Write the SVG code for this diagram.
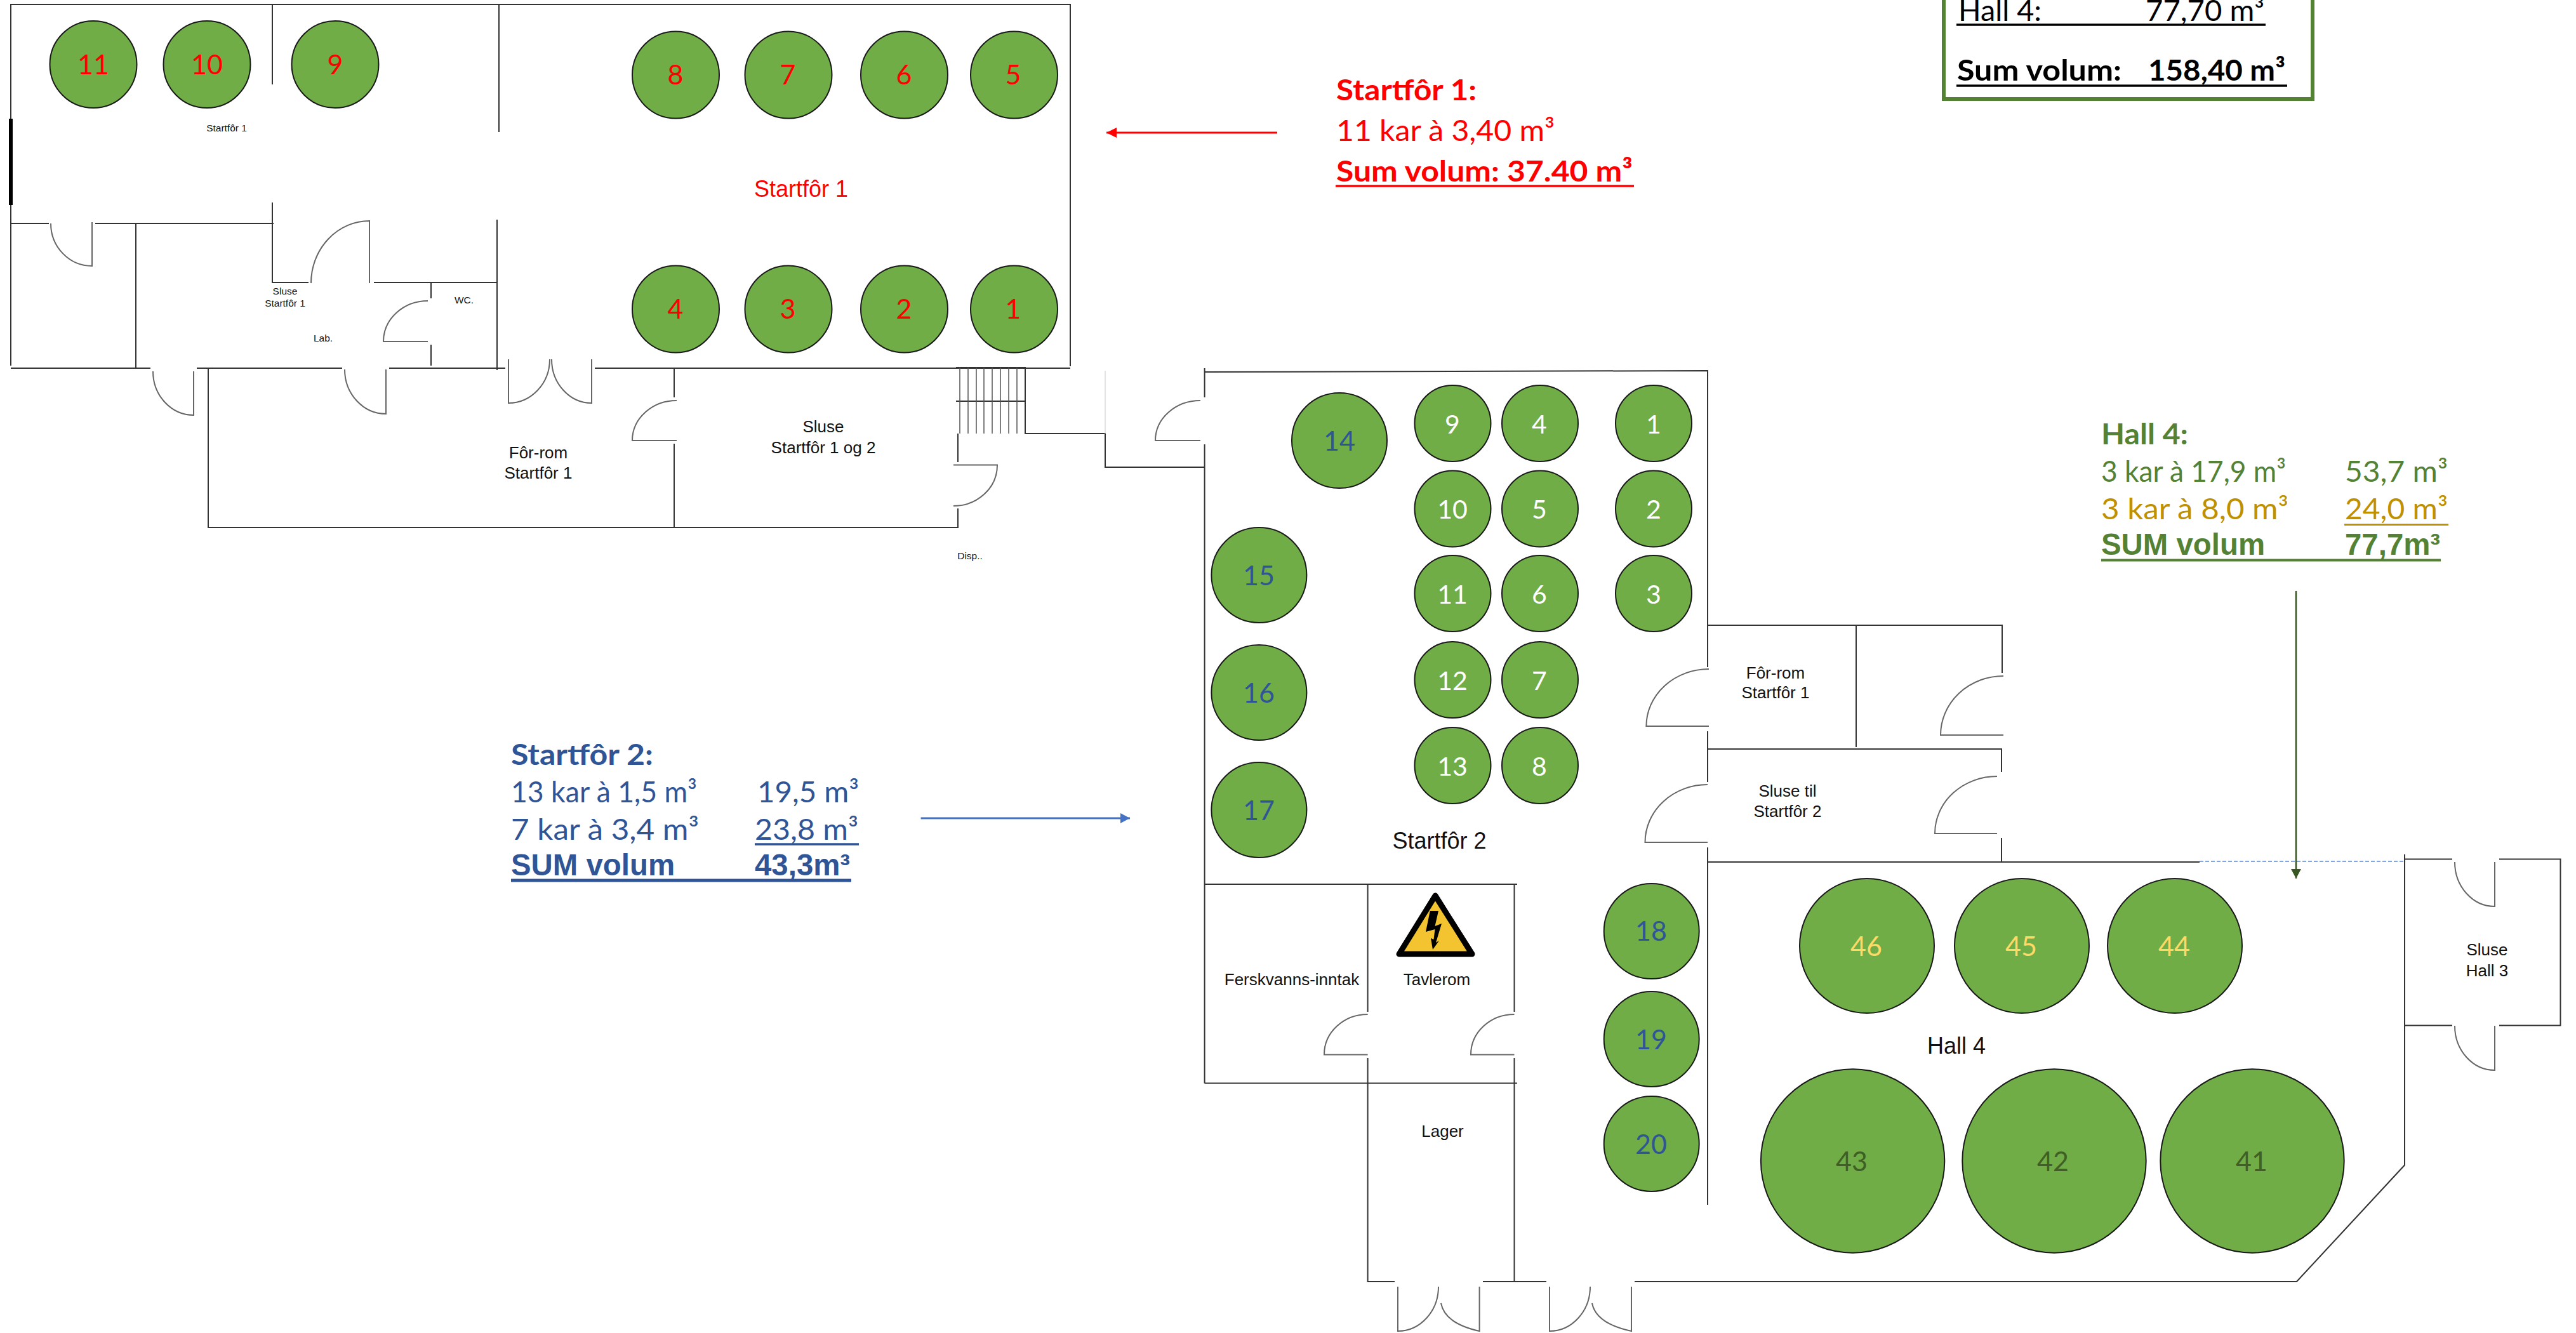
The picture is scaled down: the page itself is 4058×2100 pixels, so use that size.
<svg xmlns="http://www.w3.org/2000/svg" width="4058" height="2100" viewBox="0 0 4058 2100">
<defs>
<style>
.w{fill:none;stroke:#333;stroke-width:2}
.t{fill:none;stroke:#555;stroke-width:1.5}
.d{fill:none;stroke:#666;stroke-width:2}
.k{fill:#70ad47;stroke:#1a1a1a;stroke-width:2}
text{font-family:"Liberation Sans",Arial,sans-serif;fill:#111}
.c{text-anchor:middle}
.s{font-size:15.5px}
.m{font-size:26px}
.l{font-size:36px}
.n{font-family:Lato,"Open Sans",sans-serif;text-anchor:middle;font-size:43px}
.red{fill:#ff0000}
.wh{fill:#ffffff;font-size:41px}
.bl{fill:#2f5597}
.ye{fill:#ffd966}
.dg{fill:#3f5f24}
.p{font-family:Lato,"Open Sans",sans-serif;font-size:46px}
.b{font-weight:700}
.ar{font-family:"Liberation Sans",Arial,sans-serif;font-weight:700;font-size:47.4px}
.g{fill:#548235}
.o{fill:#bf9000}
.bk{fill:#000}
</style>
<marker id="ra" markerUnits="userSpaceOnUse" markerWidth="16" markerHeight="16" refX="16" refY="8" orient="auto"><path d="M0 0L16 8L0 16Z" fill="#ff0000"/></marker>
<marker id="ba" markerUnits="userSpaceOnUse" markerWidth="15" markerHeight="16" refX="15" refY="8" orient="auto"><path d="M0 0L15 8L0 16Z" fill="#4472c4"/></marker>
<marker id="ga" markerUnits="userSpaceOnUse" markerWidth="15" markerHeight="16" refX="15" refY="8" orient="auto"><path d="M0 0L15 8L0 16Z" fill="#385723"/></marker>
</defs>
<rect width="4058" height="2100" fill="#ffffff"/>

<g id="plan-walls">
<path class="w" d="M17 576V7H1686V577M429 7V133M786 7V208M17 352H77M150 352H431M214 352V580M17 580H237M310 580H539M613 580H796M937 580H1686"/>
<path d="M17 187V323" fill="none" stroke="#000" stroke-width="6"/>
<path class="w" d="M429 319V445H486M589 445H784M679 445V470M679 543V576M783 346V583M328 580V831H1509V801M1509 728V683M1062 580V626M1062 699V831"/>
<path class="w" d="M1506 579H1615V683H1741V736H1897M1506 632H1615"/>
<path class="t" d="M1512 579V683M1525 579V683M1538 579V683M1550 579V683M1563 579V683M1576 579V683M1589 579V683M1602 579V683"/>
<path d="M1741 584V683" fill="none" stroke="#ddd" stroke-width="1.5"/>
<path class="w" d="M1897.6 580V626M1897.6 700V1706.5M1897.6 586L2690 584V1051M2690 1152V1232M2690 1335V1898M2690 985H3154V1060M2690 1180H3153V1216M3153 1320V1358M2924 985V1177M2690 1358H3465"/>
<path class="w" d="M1897.6 1393H2390M1897.6 1706.5H2390M2154.6 1393V1594M2154.6 1667V2019H2197M2385.5 1393V1594M2385.5 1667V2019M2336 2019H2436M2575 2019H3618L3788 1835.5V1346M3788 1353.5H3863M3937 1353.5H4033.5V1615.5H3937M3863 1615.5H3788"/>
<path d="M3465 1357H3786" fill="none" stroke="#5b8bd6" stroke-width="1.5" stroke-dasharray="6 3"/>
</g>

<g id="plan-doors">
<path class="d" d="M80 352A65 67 0 0 0 145 419V350M241 585A64 69 0 0 0 305 654V585M543 582A65 70 0 0 0 608 652V582M582 446V348A92 98 0 0 0 490 446M674 474A70 64 0 0 0 604 538H674"/>
<path class="d" d="M801 566V635A65 69 0 0 0 866 566M869 566A63 69 0 0 0 932 635V566M1066 631A70 63 0 0 0 996 694H1066M1502 732.5H1571A69 64 0 0 1 1502 797M1891 631A71 63 0 0 0 1820 694H1891"/>
<path class="d" d="M2692 1054A99 90 0 0 0 2593.4 1144H2692M2690 1236A98.5 91 0 0 0 2591.5 1327H2690M3156 1065A99 93 0 0 0 3057 1158H3156M3146 1223A98 90 0 0 0 3048 1313H3146"/>
<path class="d" d="M2154.6 1598A68.6 63.5 0 0 0 2086 1661.5H2154.6M2385.5 1598A68.5 63.5 0 0 0 2317 1661.5H2385.5"/>
<path class="d" d="M2202 2027V2097A64 70 0 0 0 2266 2027M2270 2053Q2276 2085 2330.6 2097V2027M2441 2027V2097A64 70 0 0 0 2505 2027M2508 2053Q2514 2085 2570 2097V2027"/>
<path class="d" d="M3867 1358A63 70 0 0 0 3930 1428V1358M3867 1616A63 70 0 0 0 3930 1686V1616"/>
</g>

<g id="warning-sign">
<path d="M2261 1411L2204 1503H2319Z" fill="#f4c430" stroke="#000" stroke-width="9" stroke-linejoin="round"/>
<path d="M2252.8 1435H2266L2260.5 1459L2271 1455L2262 1485L2267 1482L2257 1496L2254 1478L2258.5 1480L2260.5 1464L2246 1468Z" fill="#000"/>
</g>

<g id="room-labels">
<text class="c s" x="357" y="207">Startfôr 1</text>
<text class="c s" x="449" y="464">Sluse</text>
<text class="c s" x="449" y="483">Startfôr 1</text>
<text class="c s" x="509" y="538">Lab.</text>
<text class="c s" x="731" y="478">WC.</text>
<text class="c s" x="1528" y="881">Disp..</text>
<text class="c m" x="848" y="722">Fôr-rom</text>
<text class="c m" x="848" y="754">Startfôr 1</text>
<text class="c m" x="1297" y="681">Sluse</text>
<text class="c m" x="1297" y="714">Startfôr 1 og 2</text>
<text class="c l red" x="1262" y="310">Startfôr 1</text>
<text class="c l" x="2267.5" y="1337">Startfôr 2</text>
<text class="c m" x="2035" y="1552">Ferskvanns-inntak</text>
<text class="c m" x="2263.5" y="1552">Tavlerom</text>
<text class="c m" x="2272.5" y="1791">Lager</text>
<text class="c m" x="2797" y="1069">Fôr-rom</text>
<text class="c m" x="2797" y="1100">Startfôr 1</text>
<text class="c m" x="2816" y="1255">Sluse til</text>
<text class="c m" x="2816" y="1287">Startfôr 2</text>
<text class="c l" x="3082" y="1660">Hall 4</text>
<text class="c m" x="3918" y="1505">Sluse</text>
<text class="c m" x="3918" y="1538">Hall 3</text>
</g>

<g id="s1-tank-11"><circle class="k" cx="147" cy="101.5" r="68.5"/><text class="n red" x="147" y="117">11</text></g>
<g id="s1-tank-10"><circle class="k" cx="326" cy="101.5" r="68.5"/><text class="n red" x="326" y="117">10</text></g>
<g id="s1-tank-9"><circle class="k" cx="528" cy="101.5" r="68.5"/><text class="n red" x="528" y="117">9</text></g>
<g id="s1-tank-8"><circle class="k" cx="1064.5" cy="118" r="68.5"/><text class="n red" x="1064" y="133">8</text></g>
<g id="s1-tank-7"><circle class="k" cx="1242" cy="118" r="68.5"/><text class="n red" x="1241" y="133">7</text></g>
<g id="s1-tank-6"><circle class="k" cx="1424.5" cy="118" r="68.5"/><text class="n red" x="1424" y="133">6</text></g>
<g id="s1-tank-5"><circle class="k" cx="1597.5" cy="118" r="68.5"/><text class="n red" x="1596" y="133">5</text></g>
<g id="s1-tank-4"><circle class="k" cx="1064.5" cy="487" r="68.5"/><text class="n red" x="1064" y="502">4</text></g>
<g id="s1-tank-3"><circle class="k" cx="1242" cy="487" r="68.5"/><text class="n red" x="1241" y="502">3</text></g>
<g id="s1-tank-2"><circle class="k" cx="1424.5" cy="487" r="68.5"/><text class="n red" x="1424" y="502">2</text></g>
<g id="s1-tank-1"><circle class="k" cx="1597.5" cy="487" r="68.5"/><text class="n red" x="1596" y="502">1</text></g>

<g id="s2-tank-9"><circle class="k" cx="2288.5" cy="667" r="60"/><text class="n wh" x="2288" y="683">9</text></g>
<g id="s2-tank-4"><circle class="k" cx="2426" cy="667" r="60"/><text class="n wh" x="2425" y="683">4</text></g>
<g id="s2-tank-1"><circle class="k" cx="2605" cy="667" r="60"/><text class="n wh" x="2605" y="683">1</text></g>
<g id="s2-tank-10"><circle class="k" cx="2288.5" cy="801.5" r="60"/><text class="n wh" x="2288" y="817">10</text></g>
<g id="s2-tank-5"><circle class="k" cx="2426" cy="801.5" r="60"/><text class="n wh" x="2425" y="817">5</text></g>
<g id="s2-tank-2"><circle class="k" cx="2605" cy="801.5" r="60"/><text class="n wh" x="2605" y="817">2</text></g>
<g id="s2-tank-11"><circle class="k" cx="2288.5" cy="935" r="60"/><text class="n wh" x="2288" y="951">11</text></g>
<g id="s2-tank-6"><circle class="k" cx="2426" cy="935" r="60"/><text class="n wh" x="2425" y="951">6</text></g>
<g id="s2-tank-3"><circle class="k" cx="2605" cy="935" r="60"/><text class="n wh" x="2605" y="951">3</text></g>
<g id="s2-tank-12"><circle class="k" cx="2288.5" cy="1071" r="60"/><text class="n wh" x="2288" y="1087">12</text></g>
<g id="s2-tank-7"><circle class="k" cx="2426" cy="1071" r="60"/><text class="n wh" x="2425" y="1087">7</text></g>
<g id="s2-tank-13"><circle class="k" cx="2288.5" cy="1206" r="60"/><text class="n wh" x="2288" y="1222">13</text></g>
<g id="s2-tank-8"><circle class="k" cx="2426" cy="1206" r="60"/><text class="n wh" x="2425" y="1222">8</text></g>

<g id="s2-tank-14"><circle class="k" cx="2110" cy="694" r="75"/><text class="n bl" x="2110" y="710">14</text></g>
<g id="s2-tank-15"><circle class="k" cx="1983.4" cy="906" r="75"/><text class="n bl" x="1983" y="922">15</text></g>
<g id="s2-tank-16"><circle class="k" cx="1983.4" cy="1091" r="75"/><text class="n bl" x="1983" y="1107">16</text></g>
<g id="s2-tank-17"><circle class="k" cx="1983.4" cy="1276" r="75"/><text class="n bl" x="1983" y="1292">17</text></g>
<g id="s2-tank-18"><circle class="k" cx="2601.7" cy="1467" r="75"/><text class="n bl" x="2601" y="1482">18</text></g>
<g id="s2-tank-19"><circle class="k" cx="2601.7" cy="1637" r="75"/><text class="n bl" x="2601" y="1653">19</text></g>
<g id="s2-tank-20"><circle class="k" cx="2601.7" cy="1802" r="75"/><text class="n bl" x="2601" y="1818">20</text></g>

<g id="h4-tank-46"><circle class="k" cx="2941" cy="1490" r="106"/><text class="n ye" x="2940" y="1506">46</text></g>
<g id="h4-tank-45"><circle class="k" cx="3185" cy="1490" r="106"/><text class="n ye" x="3184" y="1506">45</text></g>
<g id="h4-tank-44"><circle class="k" cx="3426" cy="1490" r="106"/><text class="n ye" x="3425" y="1506">44</text></g>
<g id="h4-tank-43"><circle class="k" cx="2918.6" cy="1829" r="144.7"/><text class="n dg" x="2917" y="1845">43</text></g>
<g id="h4-tank-42"><circle class="k" cx="3236" cy="1829" r="144.7"/><text class="n dg" x="3234" y="1845">42</text></g>
<g id="h4-tank-41"><circle class="k" cx="3548" cy="1829" r="144.7"/><text class="n dg" x="3547" y="1845">41</text></g>

<g id="connectors">
<path d="M2012 209H1743" fill="none" stroke="#ff0000" stroke-width="3" marker-end="url(#ra)"/>
<path d="M1450.6 1289H1780" fill="none" stroke="#4472c4" stroke-width="3" marker-end="url(#ba)"/>
<path d="M3617 931V1384" fill="none" stroke="#385723" stroke-width="2.5" marker-end="url(#ga)"/>
</g>

<g id="panel-startfor1">
<text class="p b red" x="2105" y="158" textLength="221" lengthAdjust="spacingAndGlyphs">Startfôr 1:</text>
<text class="p red" x="2105" y="222" textLength="344" lengthAdjust="spacingAndGlyphs">11 kar à 3,40 m³</text>
<text class="p b red" x="2105" y="286" textLength="467" lengthAdjust="spacingAndGlyphs">Sum volum: 37.40 m³</text>
<path d="M2104 293H2574" fill="none" stroke="#ff0000" stroke-width="3.5"/>
</g>

<g id="panel-startfor2">
<text class="p b bl" x="805" y="1205" textLength="224" lengthAdjust="spacingAndGlyphs">Startfôr 2:</text>
<text class="p bl" x="805" y="1264" textLength="293" lengthAdjust="spacingAndGlyphs">13 kar à 1,5 m³</text>
<text class="p bl" x="1193" y="1264" textLength="160" lengthAdjust="spacingAndGlyphs">19,5 m³</text>
<text class="p bl" x="805" y="1323" textLength="296" lengthAdjust="spacingAndGlyphs">7 kar à 3,4 m³</text>
<text class="p bl" x="1189" y="1323" textLength="163" lengthAdjust="spacingAndGlyphs">23,8 m³</text>
<path d="M1189 1330H1353" fill="none" stroke="#2f5597" stroke-width="3.5"/>
<text class="ar bl" x="805" y="1379">SUM volum</text>
<text class="ar bl" x="1189" y="1379">43,3m³</text>
<path d="M805 1387H1341" fill="none" stroke="#2f5597" stroke-width="5"/>
</g>

<g id="panel-hall4">
<text class="p b g" x="3310" y="700" textLength="137" lengthAdjust="spacingAndGlyphs">Hall 4:</text>
<text class="p g" x="3310" y="759" textLength="291" lengthAdjust="spacingAndGlyphs">3 kar à 17,9 m³</text>
<text class="p g" x="3694" y="759" textLength="162" lengthAdjust="spacingAndGlyphs">53,7 m³</text>
<text class="p o" x="3310" y="818" textLength="295" lengthAdjust="spacingAndGlyphs">3 kar à 8,0 m³</text>
<text class="p o" x="3694" y="818" textLength="162" lengthAdjust="spacingAndGlyphs">24,0 m³</text>
<path d="M3693 826.5H3857" fill="none" stroke="#bf9000" stroke-width="3"/>
<text class="ar g" x="3310" y="874">SUM volum</text>
<text class="ar g" x="3694" y="874">77,7m³</text>
<path d="M3310 882.5H3845" fill="none" stroke="#548235" stroke-width="4"/>
</g>

<g id="panel-total">
<rect x="3062" y="-30" width="581" height="186" fill="#ffffff" stroke="#548235" stroke-width="6"/>
<text class="p bk" x="3085" y="33" textLength="131" lengthAdjust="spacingAndGlyphs">Hall 4:</text>
<text class="p bk" x="3380" y="33" textLength="187" lengthAdjust="spacingAndGlyphs">77,70 m³</text>
<path d="M3082 39H3569" fill="none" stroke="#000" stroke-width="3.5"/>
<text class="p b bk" x="3083" y="127" textLength="259" lengthAdjust="spacingAndGlyphs">Sum volum:</text>
<text class="p b bk" x="3384" y="127" textLength="216" lengthAdjust="spacingAndGlyphs">158,40 m³</text>
<path d="M3082 135H3603" fill="none" stroke="#000" stroke-width="3.5"/>
</g>
</svg>
